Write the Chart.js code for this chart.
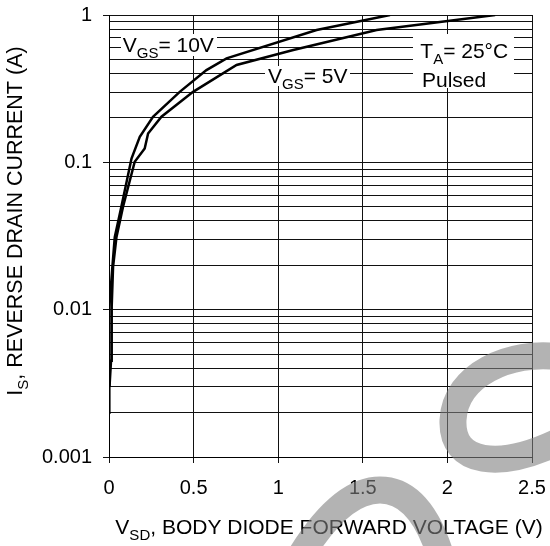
<!DOCTYPE html>
<html>
<head>
<meta charset="utf-8">
<script src="https://cdn.jsdelivr.net/npm/chart.js@4.4.0/dist/chart.umd.min.js"></script>
<style>
  html, body { margin: 0; padding: 0; background: #fff; }
  #wrap { width: 550px; height: 546px; }
</style>
</head>
<body>
<div id="wrap"><canvas id="chart" width="550" height="546"></canvas></div>
<script>
// I_S vs V_SD
const vgs10V = [0, 0, 0.004, 0.02, 0.034, 0.073, 0.133, 0.182, 0.26, 0.418, 0.576, 0.695, 1.227, 1.661];
const vgs10I = [0.002, 0.0048, 0.0104, 0.0195, 0.031, 0.05, 0.106, 0.149, 0.204, 0.301, 0.423, 0.508, 0.791, 1];
const vgs5V = [0.003, 0.012, 0.016, 0.024, 0.044, 0.083, 0.152, 0.211, 0.231, 0.31, 0.497, 0.754, 1.089, 1.582, 2.282];
const vgs5I = [0.003, 0.0045, 0.0105, 0.0195, 0.031, 0.05, 0.101, 0.124, 0.157, 0.204, 0.301, 0.458, 0.578, 0.791, 1];

const xTicks = [0, 0.5, 1, 1.5, 2, 2.5];
const yDecades = [0.001, 0.01, 0.1];
const yMajorLabels = ['0.001', '0.01', '0.1', '1'];

const FONT = "'Liberation Sans', Arial, sans-serif";

// 1..9 per decade, plus the top value
const yTicks = [];
const yTickText = [];
yDecades.forEach((d, i) => {
  for (let m = 1; m <= 9; m++) {
    yTicks.push(+(d * m).toPrecision(3));
    yTickText.push(m === 1 ? yMajorLabels[i] : '');
  }
});
yTicks.push(1);
yTickText.push(yMajorLabels[3]);

const toPoints = (xs, ys) => xs.map((x, i) => ({ x: x, y: ys[i] }));

// text with subscripts: parts = [[text, isSub], ...]
function drawRich(ctx, parts, x, y, size, align) {
  const subSize = Math.round(size * 0.7);
  let total = 0;
  parts.forEach(p => {
    ctx.font = (p[1] ? subSize : size) + 'px ' + FONT;
    total += ctx.measureText(p[0]).width;
  });
  let cx = align === 'center' ? x - total / 2 : x;
  ctx.textAlign = 'left';
  ctx.textBaseline = 'alphabetic';
  parts.forEach(p => {
    ctx.font = (p[1] ? subSize : size) + 'px ' + FONT;
    ctx.fillText(p[0], cx, p[1] ? y + size * 0.3 : y);
    cx += ctx.measureText(p[0]).width;
  });
}

const labelsPlugin = {
  id: 'labels',
  afterDraw(chart) {
    const ctx = chart.ctx;
    const xs = chart.scales.x, ys = chart.scales.y;
    ctx.save();

    // white boxes behind the in-plot notes
    ctx.fillStyle = '#fff';
    ctx.fillRect(121, 34, 96, 22);
    ctx.fillRect(265, 66, 85, 20);
    ctx.fillRect(413, 34, 101, 54);

    ctx.fillStyle = '#000';
    drawRich(ctx, [['V', false], ['GS', true], ['= 10V', false]],
      xs.getPixelForValue(0.081), ys.getPixelForValue(0.56), 21, 'left');
    drawRich(ctx, [['V', false], ['GS', true], ['= 5V', false]],
      xs.getPixelForValue(0.94), ys.getPixelForValue(0.345), 21, 'left');
    drawRich(ctx, [['T', false], ['A', true], ['= 25°C', false]],
      xs.getPixelForValue(1.84), ys.getPixelForValue(0.51), 21, 'left');
    drawRich(ctx, [['Pulsed', false]],
      xs.getPixelForValue(1.85), ys.getPixelForValue(0.325), 21, 'left');

    // axis titles
    drawRich(ctx, [['V', false], ['SD', true], [', BODY DIODE FORWARD VOLTAGE (V)', false]],
      329, 534, 21, 'center');
    ctx.translate(22, 221);
    ctx.rotate(-Math.PI / 2);
    drawRich(ctx, [['I', false], ['S', true], [', REVERSE DRAIN CURRENT (A)', false]],
      0, 0, 21.5, 'center');
    ctx.restore();

    // grey watermark strokes
    ctx.save();
    ctx.strokeStyle = 'rgba(128,128,128,0.6)';
    ctx.lineWidth = 27;
    ctx.beginPath();
    ctx.moveTo(560, 357);
    ctx.bezierCurveTo(510, 350, 455, 375, 453, 420);
    ctx.bezierCurveTo(451, 465, 500, 470, 560, 441);
    ctx.stroke();
    ctx.beginPath();
    ctx.moveTo(298, 560);
    ctx.bezierCurveTo(328, 510, 355, 490, 380, 490);
    ctx.bezierCurveTo(405, 490, 427, 510, 442, 560);
    ctx.stroke();
    ctx.restore();
  }
};

const lineStyle = {
  showLine: true,
  borderColor: '#000',
  borderWidth: 2.5,
  pointRadius: 0,
  tension: 0,
  fill: false
};

const ctx = document.getElementById('chart').getContext('2d');
const chart = new Chart(ctx, {
  type: 'scatter',
  data: {
    datasets: [
      Object.assign({ label: 'VGS = 10V', data: toPoints(vgs10V, vgs10I) }, lineStyle),
      Object.assign({ label: 'VGS = 5V', data: toPoints(vgs5V, vgs5I) }, lineStyle)
    ]
  },
  options: {
    responsive: false,
    animation: false,
    layout: { padding: { top: 15, right: 18, left: 0, bottom: 0 } },
    plugins: { legend: { display: false }, tooltip: { enabled: false } },
    scales: {
      x: {
        type: 'linear',
        min: 0,
        max: 2.5,
        afterBuildTicks: s => { s.ticks = xTicks.map(v => ({ value: v })); },
        afterFit: s => {
          s.height = 89;
          s.paddingLeft = 0;
          s.paddingRight = 0;
        },
        ticks: {
          callback: v => String(v),
          font: { size: 20, family: FONT },
          color: '#000',
          padding: 13,
          maxRotation: 0
        },
        grid: { color: '#111', tickColor: '#111', tickLength: 6, lineWidth: 1 },
        border: { color: '#000', width: 1 }
      },
      y: {
        type: 'logarithmic',
        min: 0.001,
        max: 1,
        afterBuildTicks: s => { s.ticks = yTicks.map(v => ({ value: v })); },
        afterFit: s => {
          s.width = 109;
          s.paddingTop = 0;
          s.paddingBottom = 0;
        },
        ticks: {
          autoSkip: false,
          callback: (v, i) => yTickText[i],
          font: { size: 20, family: FONT },
          color: '#000',
          padding: 11
        },
        grid: {
          color: '#111',
          lineWidth: 1,
          tickLength: 6,
          tickColor: c => (yTickText[c.index] ? '#111' : 'rgba(0,0,0,0)')
        },
        border: { color: '#000', width: 1 }
      }
    }
  },
  plugins: [labelsPlugin]
});
</script>
</body>
</html>
